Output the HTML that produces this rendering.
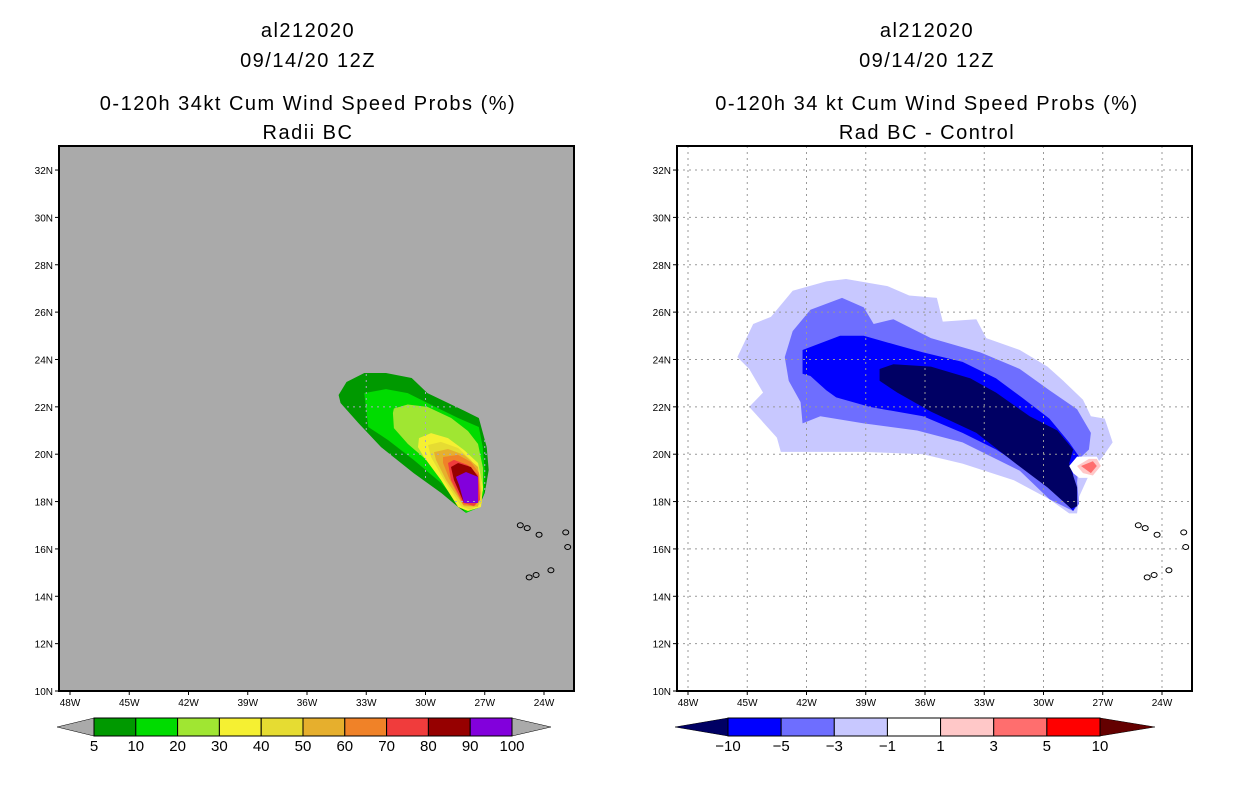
<!DOCTYPE html>
<html><head><meta charset="utf-8"><style>
body{margin:0;background:#fff;}
svg{display:block;font-family:"Liberation Sans",sans-serif;}
.t{font-size:20px;letter-spacing:1.5px;text-anchor:middle;fill:#000}
.tk{font-size:10px;fill:#000}
.cb{font-size:15px;text-anchor:middle;fill:#000}
</style></head><body>
<svg id="s" width="1236" height="800" xmlns="http://www.w3.org/2000/svg">
<text class="t" x="308" y="37">al212020</text>
<text class="t" x="308" y="67">09/14/20 12Z</text>
<text class="t" x="308" y="110">0-120h 34kt Cum Wind Speed Probs (%)</text>
<text class="t" x="308" y="139">Radii BC</text>
<text class="t" x="927" y="37">al212020</text>
<text class="t" x="927" y="67">09/14/20 12Z</text>
<text class="t" x="927" y="110">0-120h 34 kt Cum Wind Speed Probs (%)</text>
<text class="t" x="927" y="139">Rad BC - Control</text>
</svg>
<script>
const latTicks=[10,12,14,16,18,20,22,24,26,28,30,32];
const lonTicks=[48,45,42,39,36,33,30,27,24];
const leftLevels=[5,10,20,30,40,50,60,70,80,90,100];
const leftColors=['#009900','#00dc00','#a0e632','#f5f032','#e6dc32','#e6af2d','#f08228','#f03c3c','#960000','#8200dc'];
const rightLevels=[-10,-5,-3,-1,1,3,5,10];
const rightColors=['#000064','#0000ff','#6e6eff','#c8c8ff','#ffffff','#ffc8c8','#ff6e6e','#ff0000','#640000'];
// left contours [lonW, latN]
const p5=[[34.4,22.5],[34.0,23.05],[33.1,23.43],[32.0,23.43],[30.7,23.22],[29.9,22.58],[28.05,21.84],[27.3,21.53],[26.9,20.3],[26.8,19.33],[27.0,18.36],[27.3,17.77],[27.95,17.52],[28.35,17.77],[29.2,18.36],[30.6,19.2],[32.25,20.3],[33.4,21.32],[34.3,22.16]];
const p10=[[33.1,22.58],[32.0,22.75],[30.9,22.58],[29.9,22.16],[28.35,21.53],[27.3,21.15],[27.1,20.3],[27.0,19.33],[27.04,18.36],[27.34,17.73],[27.95,17.52],[28.35,17.94],[29.2,18.78],[30.6,19.76],[31.9,20.6],[32.9,21.15]];
const p20=[[31.6,21.93],[30.9,22.1],[29.9,22.0],[28.7,21.53],[27.85,20.98],[27.34,20.43],[27.09,19.42],[27.09,18.45],[27.34,18.03],[27.95,17.9],[28.56,18.45],[29.72,19.59],[30.89,20.43],[31.6,21.1],[31.65,21.74]];
const p30=[[30.33,20.68],[29.72,20.89],[28.86,20.68],[28.05,20.18],[27.34,19.63],[27.09,18.61],[27.19,17.77],[27.85,17.6],[28.35,17.77],[29.22,18.91],[30.08,19.88],[30.38,20.3]];
const p40=[[29.87,20.39],[29.22,20.52],[28.35,20.26],[27.7,19.76],[27.19,19.04],[27.14,17.94],[27.7,17.65],[28.2,17.8],[29.06,18.91],[29.72,19.88]];
const p50=[[29.57,20.09],[28.86,20.22],[28.05,19.97],[27.34,19.46],[27.19,18.36],[27.34,17.78],[28.05,17.8],[28.96,18.91],[29.47,19.76]];
const p60=[[29.11,19.88],[28.35,19.97],[27.7,19.67],[27.29,19.21],[27.24,18.07],[27.54,17.8],[28.1,17.86],[28.81,18.99],[29.11,19.63]];
const p70=[[28.86,19.63],[28.56,19.76],[27.85,19.54],[27.34,19.12],[27.24,18.07],[27.54,17.82],[28.1,17.94],[28.71,18.91]];
const p80=[[28.71,19.46],[28.35,19.63],[27.7,19.46],[27.34,19.04],[27.34,17.94],[28.05,17.94],[28.56,18.91]];
const p90=[[28.46,19.04],[27.95,19.25],[27.34,19.04],[27.34,17.94],[28.05,17.94],[28.3,18.7]];
// right contours
const n1=[[45.5,24.1],[44.7,25.5],[43.8,25.8],[42.7,26.9],[41.0,27.3],[40.0,27.4],[37.9,27.1],[36.8,26.7],[35.4,26.6],[35.1,25.6],[33.4,25.7],[32.9,24.9],[31.2,24.4],[29.8,23.7],[29.0,23.1],[28.0,22.3],[27.6,21.6],[26.9,21.5],[26.5,20.5],[27.0,19.9],[27.6,19.3],[28.2,18.2],[28.3,17.5],[28.7,17.5],[29.7,18.1],[31.5,18.9],[34.1,19.6],[36.1,20.0],[39.1,20.1],[43.3,20.1],[43.5,20.7],[44.9,22.0],[44.2,22.6],[44.9,23.6]];
const n3=[[43.1,24.1],[42.7,25.2],[41.8,26.1],[40.2,26.6],[39.1,26.2],[38.6,25.5],[37.6,25.7],[35.7,24.9],[33.2,24.3],[31.2,23.6],[29.7,22.7],[28.3,21.9],[27.6,20.9],[27.7,20.2],[28.2,19.8],[28.3,18.8],[28.2,17.9],[28.5,17.6],[29.7,18.1],[31.2,19.3],[34.1,20.5],[36.4,21.0],[39.1,21.3],[41.3,21.6],[42.2,21.3],[42.3,22.2],[42.9,23.1]];
const n5=[[42.2,24.4],[40.3,25.0],[39.1,25.0],[37.4,24.6],[36.1,24.3],[34.1,23.9],[32.4,23.2],[31.1,22.4],[29.7,21.5],[28.7,20.5],[28.2,19.9],[28.5,19.3],[28.5,18.4],[28.3,17.9],[28.5,17.6],[29.5,18.5],[30.7,19.3],[32.4,20.2],[34.1,20.9],[36.1,21.6],[38.8,22.0],[40.5,22.4],[41.0,22.7],[41.8,23.3],[42.2,23.4]];
const n10=[[38.3,23.6],[37.6,23.8],[35.7,23.7],[33.7,23.2],[32.4,22.6],[30.7,21.6],[29.3,21.0],[28.5,20.2],[28.7,19.6],[28.3,18.6],[28.3,17.8],[28.6,17.7],[29.8,18.6],[31.4,19.6],[33.4,20.9],[35.7,21.8],[37.4,22.6],[38.3,23.1]];
const z0=[[28.7,19.5],[28.3,19.9],[27.3,19.9],[27.0,19.4],[27.5,19.0],[28.2,19.0],[28.5,19.2]];
const q1=[[28.3,19.5],[27.7,19.8],[27.3,19.8],[27.1,19.5],[27.5,19.1],[28.0,19.2]];
const q3=[[28.1,19.5],[27.5,19.7],[27.3,19.5],[27.6,19.2]];
const islands=[[25.2,17.0],[24.85,16.88],[24.25,16.6],[22.9,16.7],[22.8,16.08],[23.65,15.1],[24.4,14.9],[24.75,14.8]];

const NS='http://www.w3.org/2000/svg';
const svg=document.getElementById('s');
function mk(tag,attrs,parent){const e=document.createElementNS(NS,tag);for(const k in attrs)e.setAttribute(k,attrs[k]);(parent||svg).appendChild(e);return e;}
const Y=lat=>691-(lat-10)*23.68;
function panel(x0,bg,name){
  const X=lon=>x0+11+(48-lon)*19.75;
  const g=mk('g',{});
  
  
  const bgr=mk('rect',{x:x0,y:146,width:515,height:545,fill:bg},g);
  
  
  return {g,X};
}
function poly(P,pts,fill,nm,parent){
  const e=mk('polygon',{points:pts.map(p=>P.X(p[0])+','+Y(p[1])).join(' '),fill:fill},parent||P.g);
  
  
  return e;
}
function grid(P,x0,color,clip){
  const gg=mk('g',clip?{'clip-path':'url(#'+clip+')'}:{},P.g);
  for(const lon of lonTicks){const x=P.X(lon);
    const l=mk('line',{x1:x,x2:x,y1:146,y2:691,stroke:color,'stroke-dasharray':'2,4','stroke-width':1},gg);
    
    }
  for(const lat of latTicks){const y=Y(lat);
    const l=mk('line',{x1:x0,x2:x0+515,y1:y,y2:y,stroke:color,'stroke-dasharray':'2,4','stroke-width':1},gg);
    
    }
}
function axes(P,x0){
  const fr=mk('rect',{x:x0,y:146,width:515,height:545,fill:'none',stroke:'#000','stroke-width':2},P.g);
  
  
  for(const lat of latTicks){const y=Y(lat);
    mk('line',{x1:x0-4,x2:x0,y1:y,y2:y,stroke:'#000'},P.g);
    const t=mk('text',{x:x0-6,y:y+4,'text-anchor':'end',class:'tk'},P.g);t.textContent=lat+'N';
    
    }
  for(const lon of lonTicks){const x=P.X(lon);
    mk('line',{x1:x,x2:x,y1:691,y2:695,stroke:'#000'},P.g);
    const t=mk('text',{x:x,y:706,'text-anchor':'middle',class:'tk'},P.g);t.textContent=lon+'W';
    
    }
  for(const p of islands){
    const e=mk('ellipse',{cx:P.X(p[0]),cy:Y(p[1]),rx:3,ry:2.5,fill:'none',stroke:'#000','stroke-width':1},P.g);
    
    }
}
// left
const L=panel(59,'#aaaaaa','left-probability-map');
[p5,p10,p20,p30,p40,p50,p60,p70,p80,p90].forEach((pp,i)=>poly(L,pp,leftColors[i],'contour-'+leftLevels[i]+'pct'));
const defs=mk('defs',{});
const cp=mk('clipPath',{id:'clipL'},defs);
poly(L,p5,'#000','clip-shape',cp);
grid(L,59,'#a8a8c0','clipL');
axes(L,59);
// right
const R=panel(677,'#ffffff','right-difference-map');
poly(R,n1,rightColors[3],'contour-minus1');
poly(R,n3,rightColors[2],'contour-minus3');
poly(R,n5,rightColors[1],'contour-minus5');
poly(R,n10,rightColors[0],'contour-minus10');
poly(R,z0,'#ffffff','contour-zero-gap');
poly(R,q1,rightColors[5],'contour-plus1');
poly(R,q3,rightColors[6],'contour-plus3');
grid(R,677,'#999999',null);
axes(R,677);
// colorbars
function colorbar(x0,x1,tri0,tri1,levels,colors,lc,rc,name){
  const g=mk('g',{});
  
  
  const n=levels.length-1,w=(x1-x0)/n;
  const a=mk('polygon',{points:`${tri0},727 ${x0},718 ${x0},736`,fill:lc,stroke:'#000','stroke-width':0.5},g);
  
  
  const b=mk('polygon',{points:`${tri1},727 ${x1},718 ${x1},736`,fill:rc,stroke:'#000','stroke-width':0.5},g);
  
  
  for(let i=0;i<n;i++){
    const r=mk('rect',{x:x0+i*w,y:718,width:w,height:18,fill:colors[i],stroke:'#000','stroke-width':1},g);
    
    }
  levels.forEach((v,i)=>{const t=mk('text',{x:x0+i*w,y:751,class:'cb'},g);t.textContent=String(v).replace('-','\u2212');
    
    });
}
colorbar(94,512,57,551,leftLevels,leftColors,'#aaaaaa','#aaaaaa','left-colorbar');
colorbar(728,1100,675,1155,rightLevels,rightColors.slice(1,8),rightColors[0],rightColors[8],'right-colorbar');
</script>
</body></html>
